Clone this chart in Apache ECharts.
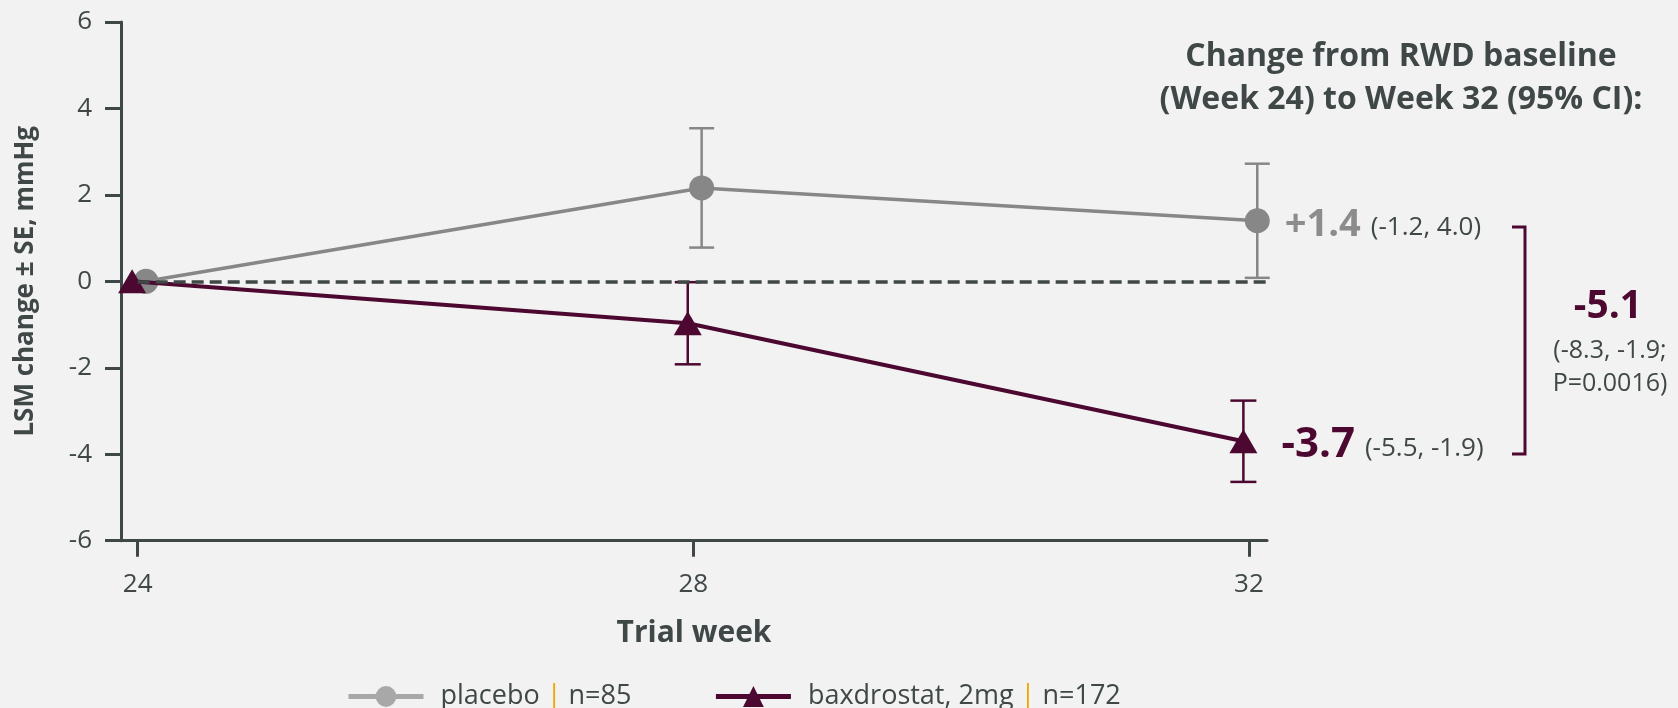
<!DOCTYPE html>
<html>
<head>
<meta charset="utf-8">
<title>LSM change by trial week</title>
<script src="https://cdn.jsdelivr.net/npm/echarts@6/dist/echarts.min.js"></script>
<style>
  html, body { margin: 0; padding: 0; background: #f2f2f2; }
  #chart { width: 1678px; height: 708px; }
</style>
</head>
<body>
<div id="chart"></div>
<script>
// Trial weeks and per-arm least-squares mean change ± SE
const weeks = [24, 28, 32];
const armNames = ['placebo', 'baxdrostat, 2mg'];
const armN = [85, 172];
const placeboMean = [0, 2.16, 1.4];
const placeboSE = [0, 1.38, 1.32];
const baxMean = [0, -0.97, -3.7];
const baxSE = [0, 0.95, 0.94];

// Week 32 change from baseline with 95% CI
const placeboCI = '(-1.2, 4.0)';
const baxCI = '(-5.5, -1.9)';
const diffValue = -5.1;
const diffCI = ['(-8.3, -1.9;', 'P=0.0016)'];

const yTicks = { min: -6, max: 6, step: 2 };

const TEXT = '#3f4747';
const GREY = '#878787';
const GREY_LEGEND = '#a8a8a8';
const MAROON = '#4c0830';
const FONT = '"Open Sans", "Noto Sans", sans-serif';
const NUM_FONT = '"Open Sans", "DejaVu Sans", sans-serif';

// small horizontal dodge so the two arms don't overlap
const dodge = { placebo: 0.06, bax: -0.04 };

function fmtSigned(v) { return (v > 0 ? '+' : '') + v.toFixed(1); }

function lineData(means, offset, ci, color, dist, bigSize) {
  const last = means.length - 1;
  return weeks.map((w, i) => {
    const item = { value: [w + offset, means[i]] };
    if (i === last) {
      item.label = {
        show: true,
        position: 'right',
        distance: dist,
        offset: [0, 4],
        formatter: '{big|' + fmtSigned(means[i]) + '}{ci|' + ci + '}',
        rich: {
          big: { fontFamily: FONT, fontWeight: 'bold', fontSize: bigSize, color: color },
          ci: { fontFamily: FONT, fontSize: 26, color: TEXT, padding: [6, 0, 0, 10] }
        }
      };
    }
    return item;
  });
}

function errorData(means, ses, offset) {
  return weeks.map((w, i) => [w + offset, means[i], ses[i]]);
}

function errorBar(color, capHalf) {
  return function (params, api) {
    const x = api.value(0), m = api.value(1), se = api.value(2);
    if (!se) return null;
    const top = api.coord([x, m + se]);
    const bot = api.coord([x, m - se]);
    const st = { stroke: color, lineWidth: 2.5 };
    return {
      type: 'group',
      children: [
        { type: 'line', shape: { x1: top[0], y1: top[1], x2: bot[0], y2: bot[1] }, style: st },
        { type: 'line', shape: { x1: top[0] - capHalf, y1: top[1], x2: top[0] + capHalf, y2: top[1] }, style: st },
        { type: 'line', shape: { x1: bot[0] - capHalf, y1: bot[1], x2: bot[0] + capHalf, y2: bot[1] }, style: st }
      ]
    };
  };
}

const chart = echarts.init(document.getElementById('chart'), null, { renderer: 'canvas' });

const option = {
  backgroundColor: '#f2f2f2',
  animation: false,
  textStyle: { fontFamily: FONT, color: TEXT },
  title: {
    text: 'Change from RWD baseline\n(Week 24) to Week 32 (95% CI):',
    left: 1396,
    top: 30,
    textAlign: 'center',
    textStyle: { fontFamily: FONT, fontWeight: 'bold', fontSize: 32, lineHeight: 43, color: TEXT }
  },
  grid: { left: 121, right: 411, top: 21.9, bottom: 167.3, containLabel: false },
  xAxis: {
    type: 'value',
    min: 23.88,
    max: 32.13,
    name: 'Trial week',
    nameLocation: 'middle',
    nameGap: 78,
    nameTextStyle: { fontFamily: FONT, fontWeight: 'bold', fontSize: 30, color: TEXT },
    axisLine: { show: true, onZero: false, lineStyle: { color: TEXT, width: 3 } },
    axisTick: { show: true, length: 16, lineStyle: { color: TEXT, width: 3 }, customValues: weeks },
    axisLabel: { fontFamily: NUM_FONT, fontSize: 26, color: TEXT, margin: 31, customValues: weeks },
    splitLine: { show: false }
  },
  yAxis: {
    type: 'value',
    min: yTicks.min,
    max: yTicks.max,
    interval: yTicks.step,
    name: 'LSM change ± SE, mmHg',
    nameLocation: 'middle',
    nameGap: 82,
    nameTextStyle: { fontFamily: FONT, fontWeight: 'bold', fontSize: 26, color: TEXT },
    axisLine: { show: true, onZero: false, lineStyle: { color: TEXT, width: 3 } },
    axisTick: { show: true, length: 16, lineStyle: { color: TEXT, width: 3 } },
    axisLabel: { fontFamily: NUM_FONT, fontSize: 26, color: TEXT, margin: 29 },
    splitLine: { show: false }
  },
  legend: {
    left: 341,
    top: 678,
    itemWidth: 75,
    itemHeight: 26,
    itemGap: 82,
    data: [
      { name: armNames[0], itemStyle: { color: GREY_LEGEND }, lineStyle: { color: GREY_LEGEND, width: 5 } },
      { name: armNames[1], lineStyle: { width: 5 } }
    ],
    formatter: function (name) {
      const n = armN[armNames.indexOf(name)];
      return name + ' {sep||} n=' + n;
    },
    textStyle: {
      fontFamily: FONT, fontSize: 27, color: TEXT,
      padding: [0, 0, 0, 12],
      rich: { sep: { color: '#f0a800', fontSize: 27, fontFamily: FONT } }
    }
  },
  series: [
    {
      name: 'placebo-se',
      type: 'custom',
      renderItem: errorBar(GREY, 12.5),
      data: errorData(placeboMean, placeboSE, dodge.placebo),
      z: 2,
      silent: true
    },
    {
      name: 'bax-se',
      type: 'custom',
      renderItem: errorBar(MAROON, 13),
      data: errorData(baxMean, baxSE, dodge.bax),
      z: 2,
      silent: true
    },
    {
      name: armNames[0],
      type: 'line',
      data: lineData(placeboMean, dodge.placebo, placeboCI, '#8c8c8c', 15, 38),
      symbol: 'circle',
      symbolSize: 25,
      itemStyle: { color: GREY },
      lineStyle: { color: GREY, width: 3.5 },
      z: 3,
      markLine: {
        silent: true,
        symbol: 'none',
        label: { show: false },
        lineStyle: { color: TEXT, width: 3.5, type: [12, 6], opacity: 1 },
        emphasis: { disabled: true },
        data: [[{ coord: [weeks[0], 0] }, { coord: [32.13, 0] }]]
      }
    },
    {
      name: armNames[1],
      type: 'line',
      data: lineData(baxMean, dodge.bax, baxCI, MAROON, 24, 42),
      symbol: 'triangle',
      symbolSize: [28, 24],
      itemStyle: { color: MAROON },
      lineStyle: { color: MAROON, width: 4 },
      z: 4
    }
  ],
  graphic: [
    {
      type: 'polyline',
      shape: { points: [[1512, 227], [1525, 227], [1525, 454], [1512, 454]] },
      style: { stroke: MAROON, lineWidth: 3, fill: null }
    },
    {
      type: 'text',
      style: {
        x: 1608, y: 287,
        text: diffValue.toFixed(1),
        textAlign: 'center',
        font: 'bold 39px ' + FONT,
        fill: MAROON
      }
    },
    {
      type: 'text',
      style: {
        x: 1610, y: 334,
        text: diffCI.join('\n'),
        textAlign: 'center',
        font: '25px ' + FONT,
        lineHeight: 33,
        fill: TEXT
      }
    }
  ]
};

chart.setOption(option);
</script>
</body>
</html>
